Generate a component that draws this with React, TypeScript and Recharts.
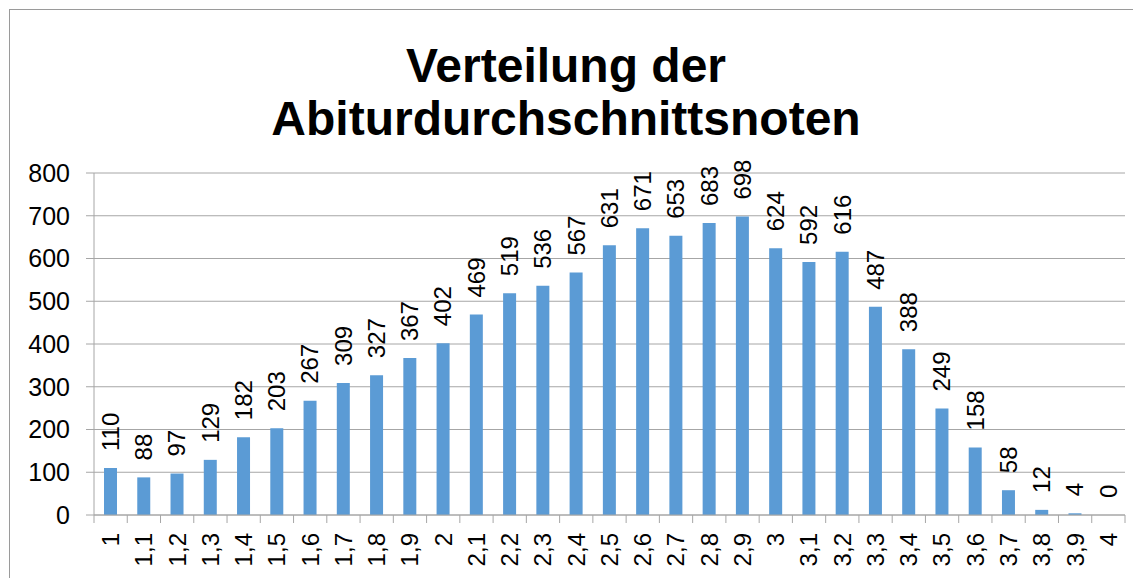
import React from "react";
import { BarChart, Bar, XAxis, YAxis, CartesianGrid, LabelList } from "recharts";

const categories = ["1","1,1","1,2","1,3","1,4","1,5","1,6","1,7","1,8","1,9","2","2,1","2,2","2,3","2,4","2,5","2,6","2,7","2,8","2,9","3","3,1","3,2","3,3","3,4","3,5","3,6","3,7","3,8","3,9","4"];
const counts = [110,88,97,129,182,203,267,309,327,367,402,469,519,536,567,631,671,653,683,698,624,592,616,487,388,249,158,58,12,4,0];
const yTicks = [0,100,200,300,400,500,600,700,800];
const titleLines = ["Verteilung der", "Abiturdurchschnittsnoten"];

const data = categories.map((c, i) => ({ name: c, v: counts[i] }));

const FONT = "'Liberation Sans', Arial, sans-serif";
const GRID = "#A6A6A6";
const BAR = "#5B9BD5";
const CHART_W = 1131;
const CHART_H = 568;
const MARGIN = { top: 163, right: 16, bottom: 0, left: 0 };
const YW = 84;
const XH = 63;
const TICK_SIZE = 8;
const TICK_MARGIN = 10;
const PLOT_W = CHART_W - MARGIN.left - MARGIN.right - YW;
const BAND = PLOT_W / categories.length;

const XTick = (props: any) => {
  const { x, y, payload, index } = props;
  const ay = y - TICK_SIZE - TICK_MARGIN;
  const isLast = index === categories.length - 1;
  return (
    <g>
      <line x1={x - BAND / 2} x2={x - BAND / 2} y1={ay} y2={ay + TICK_SIZE} stroke={GRID} strokeWidth={1} />
      {isLast && (
        <line x1={x + BAND / 2} x2={x + BAND / 2} y1={ay} y2={ay + TICK_SIZE} stroke={GRID} strokeWidth={1} />
      )}
      <text
        x={x}
        y={y}
        transform={`rotate(-90, ${x}, ${y})`}
        textAnchor="end"
        dy="0.35em"
        fontSize={24}
        fontFamily={FONT}
        fill="#000"
      >
        {payload.value}
      </text>
    </g>
  );
};

const ValueLabel = (props: any) => {
  const { x, y, width, value } = props;
  const cx = x + width / 2;
  const cy = y - 17;
  return (
    <text
      x={cx}
      y={cy}
      transform={`rotate(-90, ${cx}, ${cy})`}
      textAnchor="start"
      dy="0.35em"
      fontSize={24}
      fontFamily={FONT}
      fill="#000"
    >
      {String(value)}
    </text>
  );
};

export default function App() {
  return (
    <div
      style={{
        position: "relative",
        marginLeft: 1,
        marginTop: 1,
        width: CHART_W,
        height: CHART_H,
        borderLeft: "1px solid #9A9A9A",
        borderTop: "1px solid #9A9A9A",
        background: "#fff",
      }}
    >
      <div
        style={{
          position: "absolute",
          left: 0,
          top: 29,
          width: 1112,
          textAlign: "center",
          fontFamily: FONT,
          fontWeight: "bold",
          fontSize: 48,
          lineHeight: "53px",
          color: "#000",
        }}
      >
        {titleLines.map((t) => (
          <div key={t}>{t}</div>
        ))}
      </div>
      <BarChart width={CHART_W} height={CHART_H} data={data} margin={MARGIN}>
        <CartesianGrid horizontal={true} vertical={false} stroke={GRID} strokeWidth={1} />
        <XAxis
          dataKey="name"
          interval={0}
          height={XH}
          tickLine={false}
          tickSize={TICK_SIZE}
          tickMargin={TICK_MARGIN}
          axisLine={{ stroke: GRID, strokeWidth: 1 }}
          tick={<XTick />}
        />
        <YAxis
          width={YW}
          domain={[0, 800]}
          ticks={yTicks}
          interval={0}
          tickSize={TICK_SIZE}
          tickMargin={16}
          tickLine={{ stroke: GRID, strokeWidth: 1 }}
          axisLine={{ stroke: GRID, strokeWidth: 1 }}
          tick={{ fontSize: 25, fontFamily: FONT, fill: "#000" }}
        />
        <Bar dataKey="v" fill={BAR} barSize={13} minPointSize={0.01} isAnimationActive={false}>
          <LabelList dataKey="v" content={<ValueLabel />} />
        </Bar>
      </BarChart>
    </div>
  );
}
